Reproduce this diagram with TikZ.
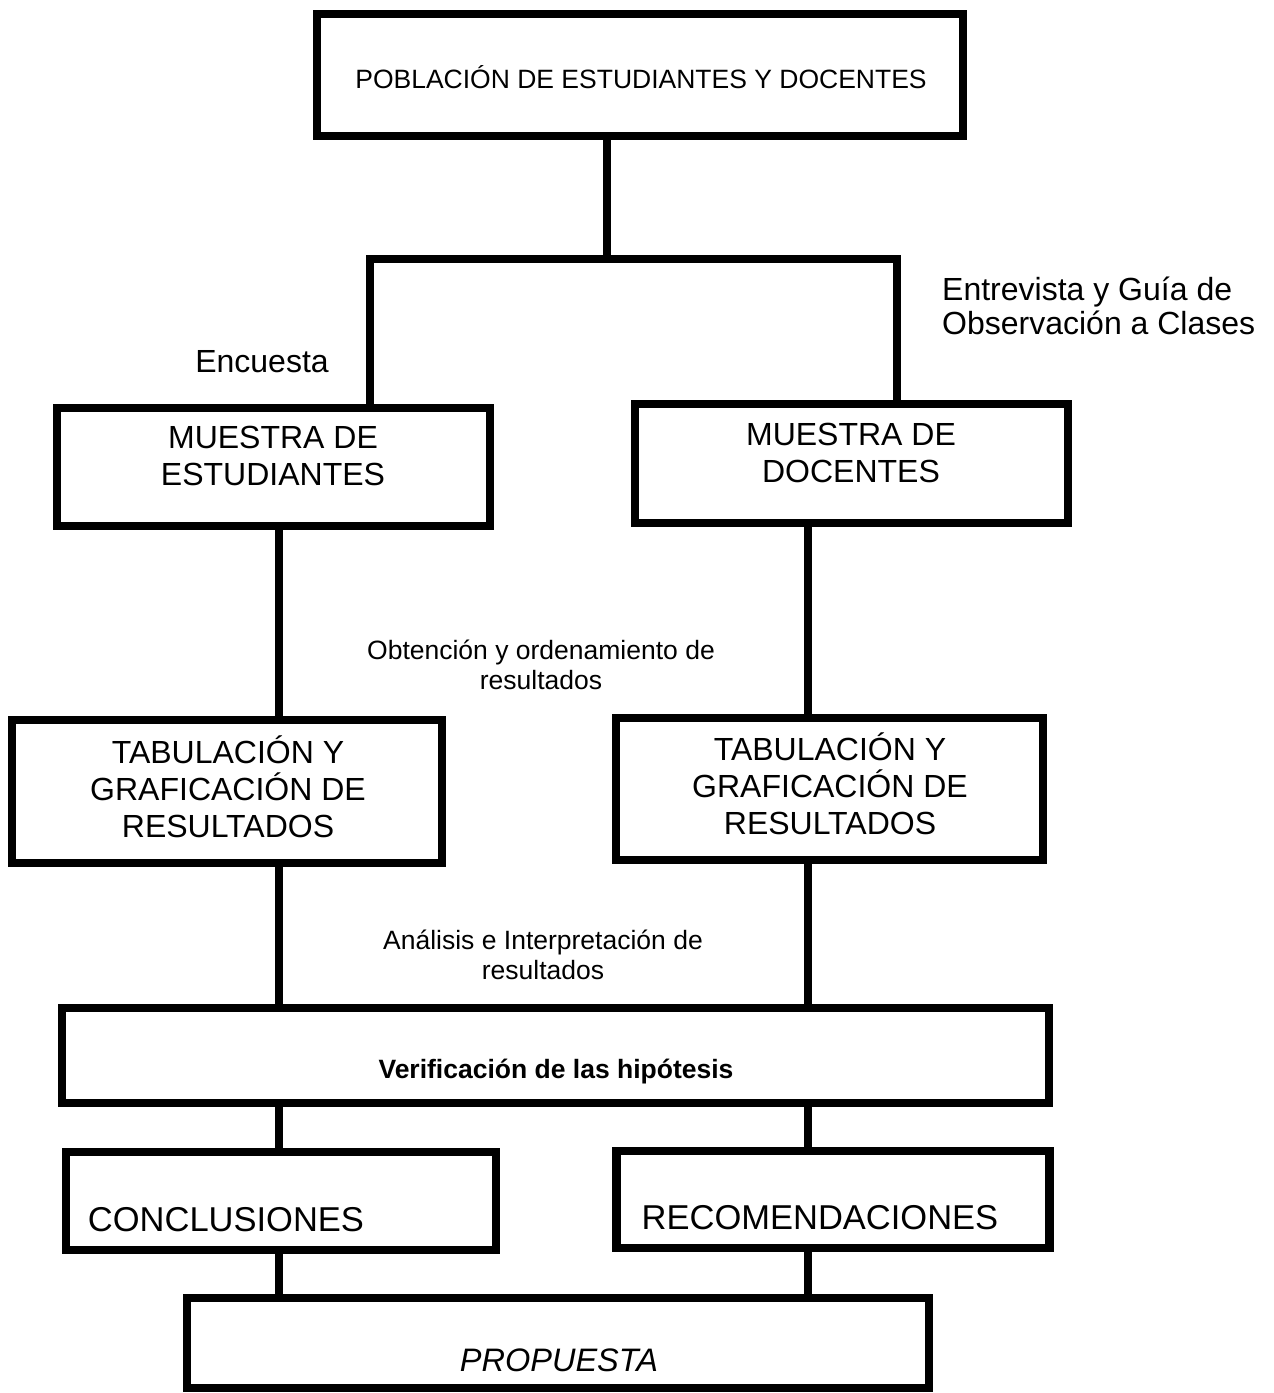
\documentclass[tikz,border=0pt]{standalone}
\usepackage{fontspec}
\setmainfont{Liberation Sans}
\usepackage{tikz}
\newcommand{\drawgruesa}{\draw[line width=8.5pt]}
\tikzset{
  caja/.style={draw, line width=8.5pt, inner sep=0pt, outer sep=0pt},
  grande/.style={font=\fontsize{32}{37}\selectfont, align=center, anchor=base, inner sep=0pt},
  chico/.style={font=\fontsize{26.5}{30}\selectfont, align=center, anchor=base, inner sep=0pt}
}

\begin{document}
\begin{tikzpicture}[x=1pt,y=-1pt]
\useasboundingbox[fill=white] (0,0) rectangle (1274,1393);
\node[caja, minimum width=646pt, minimum height=122pt] (pob) at (640,75) {};
\node[caja, minimum width=433pt, minimum height=118pt] (mEst) at (273.5,467) {};
\node[caja, minimum width=433pt, minimum height=119pt] (mDoc) at (851.5,463.5) {};
\node[caja, minimum width=430pt, minimum height=143pt] (tabEst) at (227,791.5) {};
\node[caja, minimum width=427pt, minimum height=142pt] (tabDoc) at (829.5,789) {};
\node[caja, minimum width=987pt, minimum height=95pt] (verif) at (555.5,1055.5) {};
\node[caja, minimum width=430pt, minimum height=98pt] (concl) at (281,1201) {};
\node[caja, minimum width=433pt, minimum height=97pt] (recom) at (833,1199.5) {};
\node[caja, minimum width=742pt, minimum height=90pt] (prop) at (558,1343) {};
\coordinate (ejeSup) at (607,0);
\coordinate (bajIzq) at (370,259);
\coordinate (bajDer) at (897,259);
\coordinate (ejeIzq) at (279,0);
\coordinate (ejeDer) at (808,0);
\drawgruesa (pob.south -| ejeSup) -- (ejeSup |- bajIzq);
\drawgruesa (mEst.north -| bajIzq) -- (bajIzq) -- (bajDer) -- (mDoc.north -| bajDer);
\drawgruesa (mEst.south -| ejeIzq) -- (tabEst.north -| ejeIzq);
\drawgruesa (mDoc.south -| ejeDer) -- (tabDoc.north -| ejeDer);
\drawgruesa (tabEst.south -| ejeIzq) -- (verif.north -| ejeIzq);
\drawgruesa (tabDoc.south -| ejeDer) -- (verif.north -| ejeDer);
\drawgruesa (verif.south -| ejeIzq) -- (concl.north -| ejeIzq);
\drawgruesa (verif.south -| ejeDer) -- (recom.north -| ejeDer);
\drawgruesa (concl.south -| ejeIzq) -- (prop.north -| ejeIzq);
\drawgruesa (recom.south -| ejeDer) -- (prop.north -| ejeDer);
\node[chico] (pobT) at (641,88) {POBLACIÓN DE ESTUDIANTES Y DOCENTES};
\node[grande] (encT) at (262,372) {Encuesta};
\node[grande, align=left, anchor=base west, font=\fontsize{32}{34}\selectfont] (entT) at (942,334) {Entrevista y Guía de\\Observación a Clases};
\node[grande] (mEstT) at (273,485) {MUESTRA DE\\ESTUDIANTES};
\node[grande] (mDocT) at (851,482) {MUESTRA DE\\DOCENTES};
\node[chico] (obtT) at (541,689) {Obtención y ordenamiento de\\resultados};
\node[grande] (tabEstT) at (228,837) {TABULACIÓN Y\\GRAFICACIÓN DE\\RESULTADOS};
\node[grande] (tabDocT) at (830,834) {TABULACIÓN Y\\GRAFICACIÓN DE\\RESULTADOS};
\node[chico] (anaT) at (543,979) {Análisis e Interpretación de\\resultados};
\node[chico, font=\fontsize{26.5}{30}\selectfont\bfseries] (verifT) at (556,1078) {Verificación de las hipótesis};
\node[grande, font=\fontsize{34.5}{37}\selectfont] (conclT) at (226,1231) {CONCLUSIONES};
\node[grande, font=\fontsize{34.5}{37}\selectfont] (recomT) at (820,1229) {RECOMENDACIONES};
\node[grande, font=\fontsize{32.5}{37}\selectfont\itshape] (propT) at (559,1371) {PROPUESTA};
\end{tikzpicture}
\end{document}
